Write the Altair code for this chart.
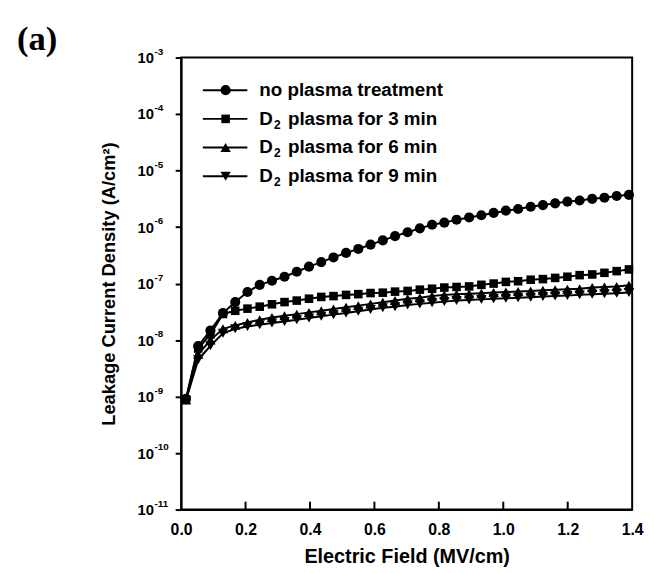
import altair as alt
import pandas as pd

# ---------------- data ----------------
field = [0.015, 0.053, 0.091, 0.130, 0.168, 0.206, 0.244, 0.282, 0.321, 0.359,
         0.397, 0.435, 0.473, 0.512, 0.550, 0.588, 0.626, 0.664, 0.703, 0.741,
         0.779, 0.817, 0.855, 0.894, 0.932, 0.970, 1.008, 1.046, 1.085, 1.123,
         1.161, 1.199, 1.237, 1.276, 1.314, 1.352, 1.390]

no_plasma = [9.1e-10, 7.8e-9, 1.48e-8, 3.0e-8, 4.7e-8, 7.1e-8, 9.5e-8, 1.12e-7, 1.32e-7, 1.62e-7,
             2.0e-7, 2.4e-7, 2.9e-7, 3.5e-7, 4.1e-7, 4.9e-7, 5.8e-7, 6.9e-7, 8.1e-7, 9.5e-7,
             1.10e-6, 1.20e-6, 1.35e-6, 1.48e-6, 1.62e-6, 1.78e-6, 1.95e-6, 2.09e-6, 2.29e-6, 2.45e-6,
             2.63e-6, 2.82e-6, 2.95e-6, 3.16e-6, 3.31e-6, 3.55e-6, 3.72e-6]

d2_3min = [8.9e-10, 7.1e-9, 1.26e-8, 2.9e-8, 3.3e-8, 3.6e-8, 3.9e-8, 4.3e-8, 4.7e-8, 5.0e-8,
           5.4e-8, 5.8e-8, 6.0e-8, 6.3e-8, 6.5e-8, 6.8e-8, 6.9e-8, 7.2e-8, 7.4e-8, 7.8e-8,
           8.1e-8, 8.5e-8, 8.7e-8, 8.9e-8, 9.5e-8, 1.0e-7, 1.07e-7, 1.10e-7, 1.17e-7, 1.20e-7,
           1.26e-7, 1.32e-7, 1.41e-7, 1.45e-7, 1.55e-7, 1.66e-7, 1.78e-7]

d2_6min = [8.7e-10, 5.6e-9, 1.0e-8, 1.58e-8, 1.82e-8, 2.04e-8, 2.29e-8, 2.51e-8, 2.69e-8, 2.88e-8,
           3.09e-8, 3.31e-8, 3.55e-8, 3.80e-8, 4.07e-8, 4.37e-8, 4.68e-8, 5.01e-8, 5.37e-8, 5.62e-8,
           6.03e-8, 6.31e-8, 6.46e-8, 6.61e-8, 6.76e-8, 6.92e-8, 7.08e-8, 7.24e-8, 7.41e-8, 7.59e-8,
           7.76e-8, 7.94e-8, 8.13e-8, 8.51e-8, 8.71e-8, 8.91e-8, 9.33e-8]

d2_9min = [8.5e-10, 4.47e-9, 7.94e-9, 1.32e-8, 1.58e-8, 1.74e-8, 1.86e-8, 2.0e-8, 2.14e-8, 2.29e-8,
           2.45e-8, 2.63e-8, 2.82e-8, 3.02e-8, 3.24e-8, 3.47e-8, 3.72e-8, 3.89e-8, 4.17e-8, 4.37e-8,
           4.57e-8, 4.79e-8, 5.01e-8, 5.13e-8, 5.25e-8, 5.37e-8, 5.50e-8, 5.62e-8, 5.75e-8, 5.89e-8,
           6.03e-8, 6.17e-8, 6.31e-8, 6.46e-8, 6.61e-8, 6.76e-8, 6.92e-8]

series_keys = ["none", "3", "6", "9"]
legend_main = ["no plasma treatment", "D", "D", "D"]
legend_sub = ["", "2", "2", "2"]
legend_rest = ["", "plasma for 3 min", "plasma for 6 min", "plasma for 9 min"]
shapes = ["circle", "square", "triangle-up", "triangle-down"]

x_ticks = [0.0, 0.2, 0.4, 0.6, 0.8, 1.0, 1.2, 1.4]
inner_x_ticks = [0.2, 0.4, 0.6, 0.8, 1.0, 1.2]
y_exponents = [-3, -4, -5, -6, -7, -8, -9, -10, -11]

# ---------------- build ----------------
W, H = 456, 457
FONT = "Liberation Sans"

all_series = [no_plasma, d2_3min, d2_6min, d2_9min]
rows = []
for key, vals in zip(series_keys, all_series):
    for e, j in zip(field, vals):
        rows.append({"series": key, "E": e, "J": j})
df = pd.DataFrame(rows)

xs = alt.Scale(domain=[0, 1.4], nice=False, zero=False)
ys = alt.Scale(type="log", domain=[1e-11, 1e-3], nice=False)

x_enc = alt.X("E:Q", scale=xs, title="Electric Field (MV/cm)",
              axis=alt.Axis(values=x_ticks, format=".1f", tickSize=0, labelPadding=12,
                            labelFontSize=16, titleFontSize=20, titlePadding=9,
                            labelFlush=False))
y_enc = alt.Y("J:Q", scale=ys, title="Leakage Current Density (A/cm²)",
              axis=alt.Axis(values=[10.0 ** e for e in y_exponents], labelExpr="'10'",
                            tickSize=6, labelPadding=22, labelFontSize=15,
                            titleFontSize=18.5, titlePadding=19))

layers = []
layers.append(alt.Chart(df).mark_line(color="black", strokeWidth=2).encode(
    x=x_enc, y=y_enc, detail="series:N"))

sizes = [105, 75, 110, 110]
for key, shp, sz in zip(series_keys, shapes, sizes):
    layers.append(alt.Chart(df[df.series == key]).mark_point(
        shape=shp, size=sz, filled=True, color="black", opacity=1, strokeWidth=0
    ).encode(x=x_enc, y=y_enc))

# inward x ticks
layers.append(alt.Chart(pd.DataFrame({"E": inner_x_ticks})).mark_rule(
    color="black", strokeWidth=2).encode(x=x_enc, y=alt.value(H), y2=alt.value(H - 8)))

# exponents of y labels
exp_df = pd.DataFrame({"J": [10.0 ** e for e in y_exponents],
                       "lab": [str(e) for e in y_exponents]})
layers.append(alt.Chart(exp_df).mark_text(
    align="left", baseline="middle", dx=0, dy=-6, fontSize=10, fontWeight="bold",
    font=FONT, color="black").encode(x=alt.value(-27), y=y_enc, text="lab:N"))

# legend
one = pd.DataFrame({"a": [0]})
row_y = [33, 62, 91, 120]
for i in range(4):
    ry = row_y[i]
    layers.append(alt.Chart(one).mark_rule(color="black", strokeWidth=2).encode(
        x=alt.value(22), x2=alt.value(67), y=alt.value(ry)))
    layers.append(alt.Chart(one).mark_point(
        shape=shapes[i], size=sizes[i], filled=True, color="black", opacity=1, strokeWidth=0
    ).encode(x=alt.value(45), y=alt.value(ry)))
    layers.append(alt.Chart(one).mark_text(
        align="left", baseline="middle", fontSize=19, fontWeight="bold", font=FONT,
        color="black").encode(x=alt.value(79), y=alt.value(ry), text=alt.value(legend_main[i])))
    if legend_sub[i]:
        layers.append(alt.Chart(one).mark_text(
            align="left", baseline="middle", fontSize=12, fontWeight="bold", font=FONT,
            color="black", dy=6).encode(x=alt.value(94), y=alt.value(ry),
                                        text=alt.value(legend_sub[i])))
        layers.append(alt.Chart(one).mark_text(
            align="left", baseline="middle", fontSize=19, fontWeight="bold", font=FONT,
            color="black").encode(x=alt.value(108), y=alt.value(ry),
                                  text=alt.value(legend_rest[i])))

# panel label
layers.append(alt.Chart(one).mark_text(
    align="left", baseline="middle", fontSize=35, fontWeight="bold",
    font="Liberation Serif", color="black").encode(
    x=alt.value(-166), y=alt.value(-19), text=alt.value("(a)")))

chart = alt.layer(*layers).properties(
    width=W, height=H,
    autosize=alt.AutoSizeParams(type="none"),
    padding={"left": 175, "top": 47, "right": 14, "bottom": 60},
    background="white",
).configure_view(stroke="black", strokeWidth=2).configure_axis(
    domainColor="black", domainWidth=2, tickColor="black", tickWidth=2,
    labelColor="black", titleColor="black", labelFont=FONT, titleFont=FONT,
    labelFontWeight="bold", titleFontWeight="bold", grid=False)

chart.save("out.html", embed_options={"renderer": "svg", "actions": False})
